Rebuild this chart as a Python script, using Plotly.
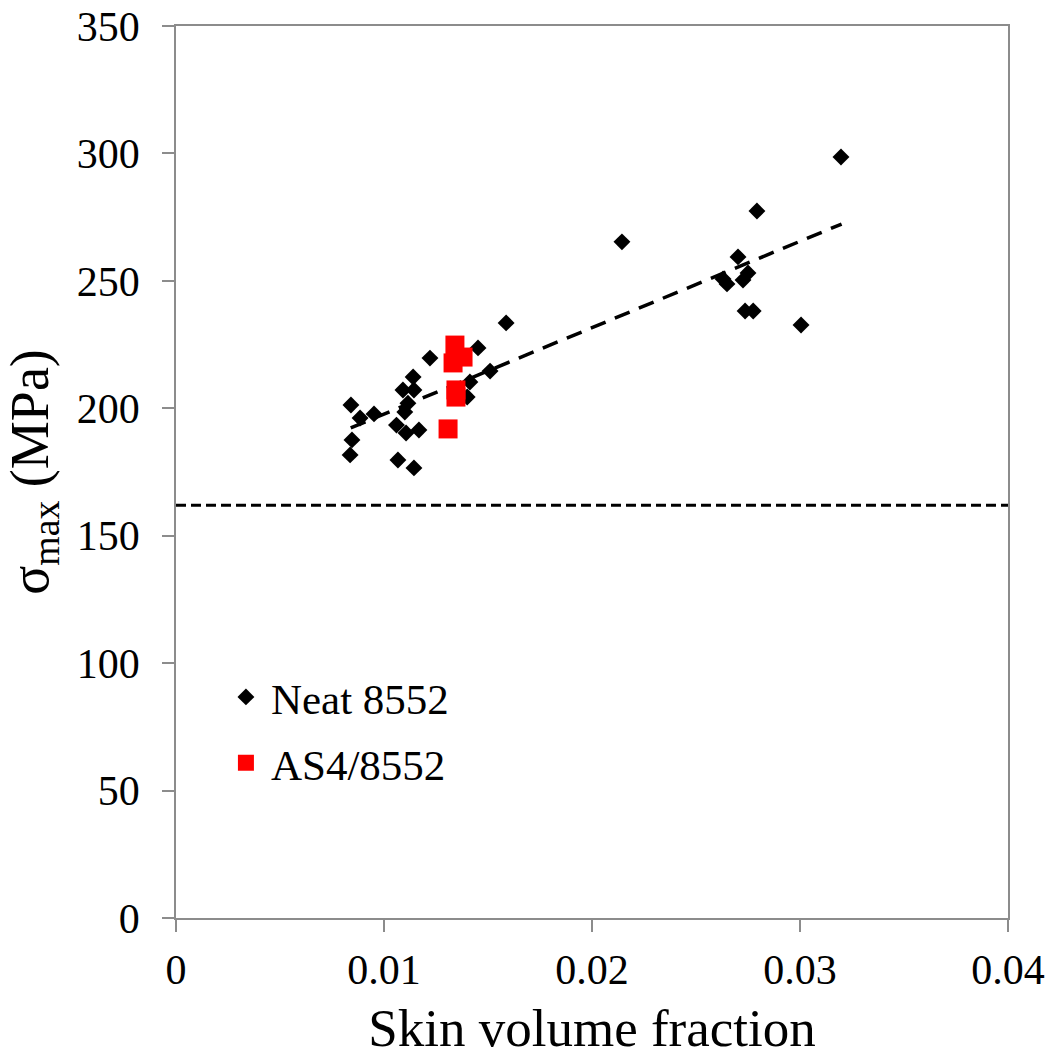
import plotly.graph_objects as go

# Neat 8552 data
neat_x = [0.00837, 0.00846, 0.00841, 0.00885, 0.00952, 0.0106, 0.01067, 0.01091, 0.0110,
          0.01106, 0.01115, 0.0114, 0.01144, 0.01144, 0.01168, 0.01221, 0.01452, 0.0151,
          0.01587, 0.01413, 0.0140, 0.02144, 0.02793, 0.03197, 0.02702, 0.0263, 0.02649,
          0.02726, 0.0275, 0.02736, 0.02775, 0.03005]
neat_y = [181.7, 187.6, 201.3, 196.2, 197.8, 193.4, 179.7, 207.2, 198.5,
          190.3, 202.0, 212.3, 207.2, 176.6, 191.5, 219.7, 223.7, 214.6,
          233.5, 210.3, 204.4, 265.3, 277.4, 298.6, 259.4, 250.7, 248.8,
          250.3, 253.1, 238.2, 238.2, 232.7]

# AS4/8552 data
as4_x = [0.01341, 0.01332, 0.0138, 0.01346, 0.01346, 0.01308]
as4_y = [224.8, 217.8, 220.1, 207.2, 204.4, 191.9]

# Linear trend (Neat 8552) endpoints
trend_x = [0.0084, 0.0320]
trend_y = [192.3, 272.3]

# Horizontal reference level
ref_level = 162.0

x_ticks = [0, 0.01, 0.02, 0.03, 0.04]
x_tick_text = ["0", "0.01", "0.02", "0.03", "0.04"]
y_ticks = [0, 50, 100, 150, 200, 250, 300, 350]

FONT = "Liberation Serif"

fig = go.Figure()

fig.add_trace(go.Scatter(x=trend_x, y=trend_y, mode="lines",
                         line=dict(color="black", width=3.5, dash="16px,10px"),
                         showlegend=False, hoverinfo="skip"))
fig.add_trace(go.Scatter(x=[0, 0.04], y=[ref_level, ref_level], mode="lines",
                         line=dict(color="black", width=3, dash="10px,5px"),
                         showlegend=False, hoverinfo="skip", cliponaxis=False))
fig.add_trace(go.Scatter(x=neat_x, y=neat_y, mode="markers", name="Neat 8552",
                         legendgroup="a",
                         marker=dict(symbol="diamond", size=13, color="black")))
fig.add_trace(go.Scatter(x=as4_x, y=as4_y, mode="markers", name="AS4/8552",
                         legendgroup="b",
                         marker=dict(symbol="square", size=19, color="#ff0000")))

axis_common = dict(showgrid=False, zeroline=False, showline=True, mirror=True,
                   linecolor="#8c8c8c", linewidth=1.5, ticks="outside",
                   ticklen=12, tickcolor="#8c8c8c", tickwidth=1.5,
                   automargin=False, ticklabeloverflow="allow",
                   tickfont=dict(family=FONT, size=42, color="black"))

fig.update_xaxes(range=[0, 0.04], tickvals=x_ticks, ticktext=x_tick_text,
                 ticklabelstandoff=2,
                 title=dict(text="Skin volume fraction",
                            font=dict(family=FONT, size=53, color="black"),
                            standoff=21),
                 **axis_common)
fig.update_yaxes(range=[0, 350], tickvals=y_ticks, ticklabelstandoff=14,
                 title=dict(text="σ<sub>max</sub> (MPa)",
                            font=dict(family=FONT, size=54, color="black"),
                            standoff=12),
                 **axis_common)

fig.update_layout(
    width=1049, height=1057,
    margin=dict(l=176, r=41, t=26, b=139),
    plot_bgcolor="white", paper_bgcolor="white",
    legend=dict(x=0.054, y=0.2865, xanchor="left", yanchor="top",
                font=dict(family=FONT, size=43, color="black"),
                bgcolor="rgba(0,0,0,0)", traceorder="grouped",
                tracegroupgap=7, itemwidth=40),
)

fig.write_html("out.html", config={"displayModeBar": False},
               post_script="document.body.style.margin='0';")
